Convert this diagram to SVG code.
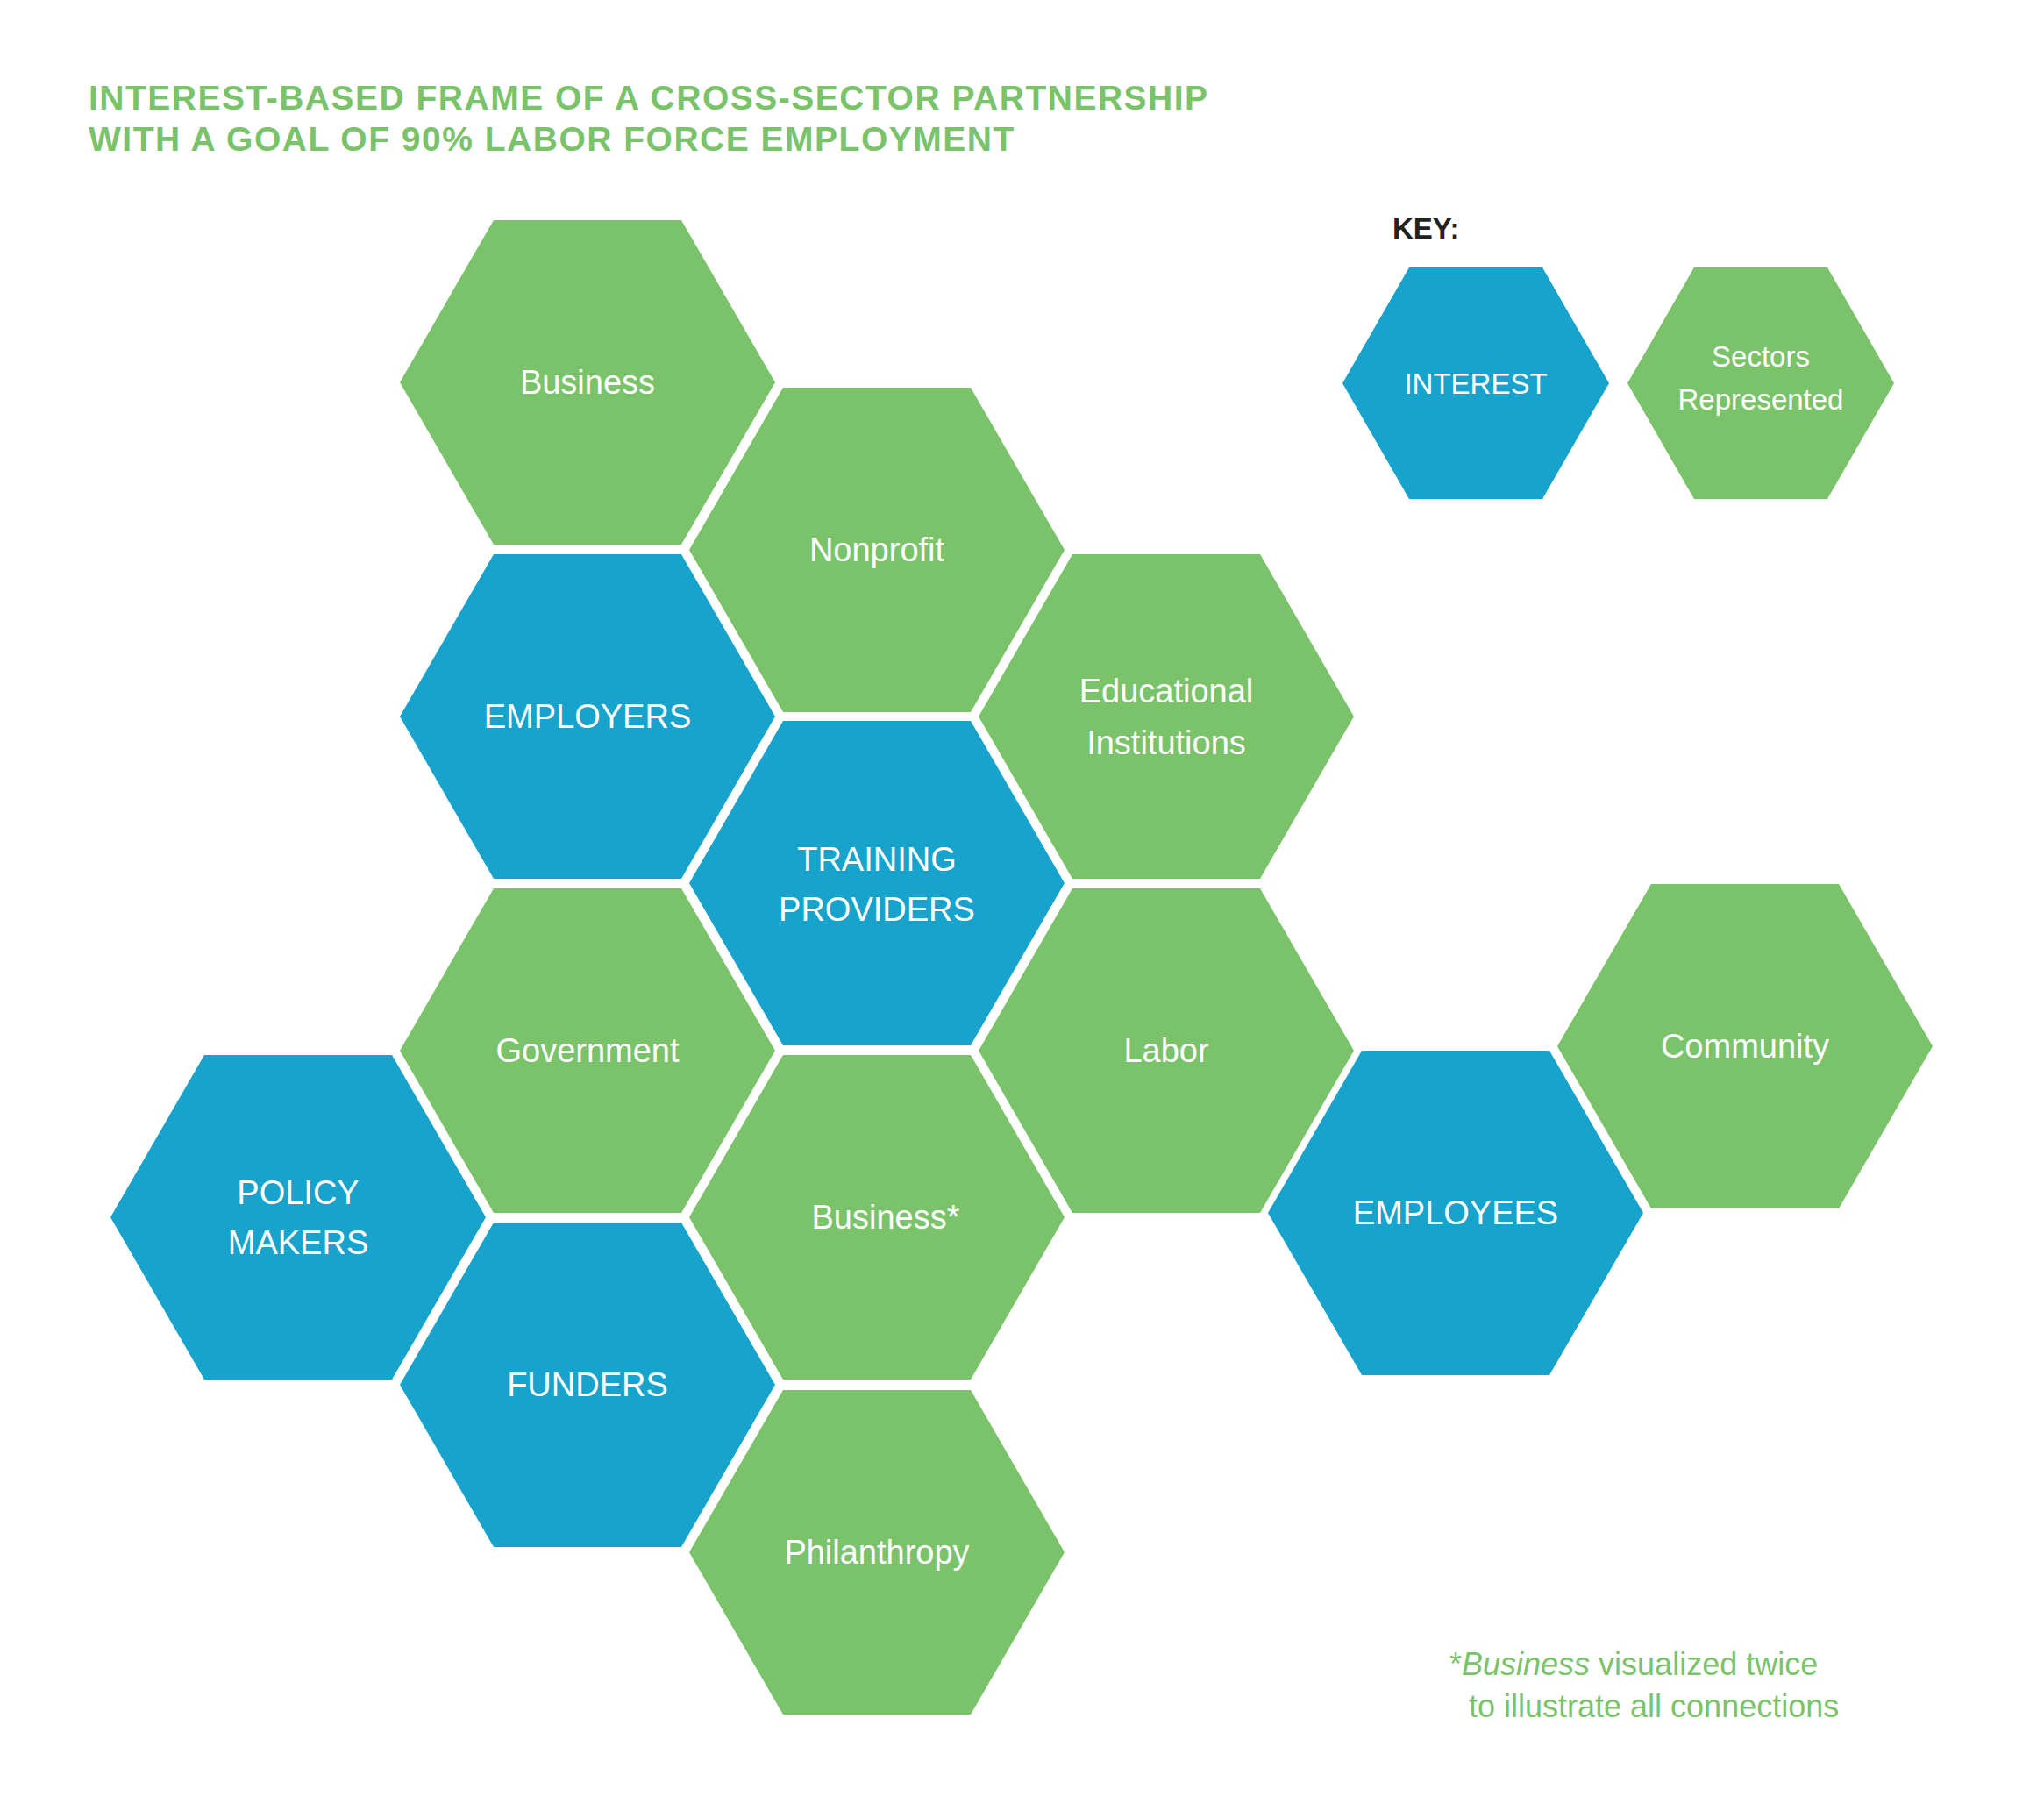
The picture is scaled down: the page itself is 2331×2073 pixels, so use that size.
<svg xmlns="http://www.w3.org/2000/svg" xmlns:xlink="http://www.w3.org/1999/xlink" width="2331" height="2073" viewBox="0 0 2331 2073">
<style>
.g{fill:#7AC36A}.b{fill:#17A3CC}
.t{font-family:"Liberation Sans",Arial,sans-serif;font-size:38px;fill:#fff;text-anchor:middle}
.k{font-family:"Liberation Sans",Arial,sans-serif;font-size:33px;fill:#fff;text-anchor:middle}
.title{font-family:"Liberation Sans",Arial,sans-serif;font-weight:bold;font-size:39px;fill:#7AC36A;letter-spacing:1.5px}
.foot{font-family:"Liberation Sans",Arial,sans-serif;font-size:36px;fill:#7AC36A}
</style>
<defs>
<polygon id="hx" points="-214,0 -107,-185 107,-185 214,0 107,185 -107,185"/>
<polygon id="hs" points="-152,0 -76,-132 76,-132 152,0 76,132 -76,132"/>
</defs>
<rect width="2331" height="2073" fill="#fff"/>
<text class="title" x="101" y="125">INTEREST-BASED FRAME OF A CROSS-SECTOR PARTNERSHIP</text>
<text class="title" x="101" y="172">WITH A GOAL OF 90% LABOR FORCE EMPLOYMENT</text>
<g id="connectors"/>
<g id="business"><use xlink:href="#hx" class="g" x="670" y="436"/><text class="t" x="670" y="449">Business</text></g>
<g id="nonprofit"><use xlink:href="#hx" class="g" x="1000" y="627"/><text class="t" x="1000" y="640">Nonprofit</text></g>
<g id="employers"><use xlink:href="#hx" class="b" x="670" y="817"/><text class="t" x="670" y="830">EMPLOYERS</text></g>
<g id="educational"><use xlink:href="#hx" class="g" x="1330" y="817"/><text class="t" x="1330" y="801">Educational</text><text class="t" x="1330" y="860">Institutions</text></g>
<g id="training"><use xlink:href="#hx" class="b" x="1000" y="1007"/><text class="t" x="1000" y="993">TRAINING</text><text class="t" x="1000" y="1050">PROVIDERS</text></g>
<g id="government"><use xlink:href="#hx" class="g" x="670" y="1198"/><text class="t" x="670" y="1211">Government</text></g>
<g id="labor"><use xlink:href="#hx" class="g" x="1330" y="1198"/><text class="t" x="1330" y="1211">Labor</text></g>
<g id="community"><use xlink:href="#hx" class="g" x="1990" y="1193"/><text class="t" x="1990" y="1206">Community</text></g>
<g id="policy"><use xlink:href="#hx" class="b" x="340" y="1388"/><text class="t" x="340" y="1373">POLICY</text><text class="t" x="340" y="1430">MAKERS</text></g>
<g id="business2"><use xlink:href="#hx" class="g" x="1000" y="1388"/><text class="t" x="1010" y="1401">Business*</text></g>
<g id="employees"><use xlink:href="#hx" class="b" x="1660" y="1383"/><text class="t" x="1660" y="1396">EMPLOYEES</text></g>
<g id="funders"><use xlink:href="#hx" class="b" x="670" y="1579"/><text class="t" x="670" y="1592">FUNDERS</text></g>
<g id="philanthropy"><use xlink:href="#hx" class="g" x="1000" y="1770"/><text class="t" x="1000" y="1783">Philanthropy</text></g>
<g id="key">
<text x="1588" y="272" style="font-family:'Liberation Sans',Arial,sans-serif;font-weight:bold;font-size:33px;fill:#222">KEY:</text>
<use xlink:href="#hs" class="b" x="1683" y="437"/><text class="k" x="1683" y="449">INTEREST</text>
<use xlink:href="#hs" class="g" x="2008" y="437"/><text class="k" x="2008" y="418">Sectors</text><text class="k" x="2008" y="467">Represented</text>
</g>
<text class="foot" x="1653" y="1910">*<tspan font-style="italic">Business</tspan> visualized twice</text>
<text class="foot" x="1675" y="1958">to illustrate all connections</text>
</svg>
